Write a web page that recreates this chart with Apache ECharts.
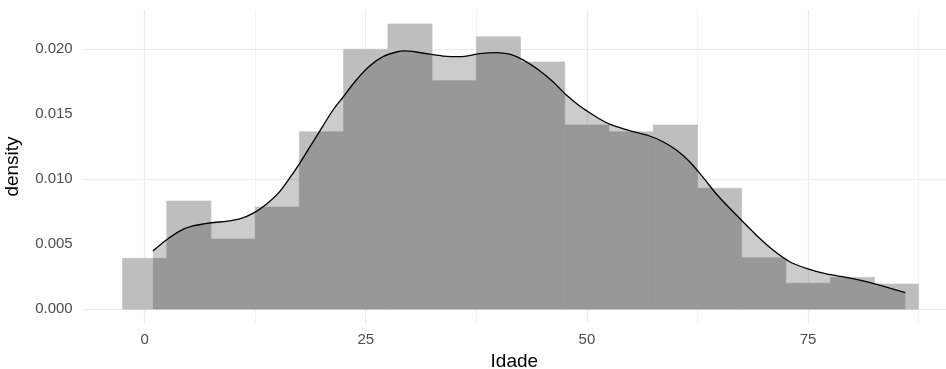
<!DOCTYPE html>
<html>
<head>
<meta charset="utf-8">
<script src="https://cdn.jsdelivr.net/npm/echarts@6/dist/echarts.min.js"></script>
<style>
html,body{margin:0;padding:0;background:#fff;}
#chart{width:946px;height:369px;}
</style>
</head>
<body>
<div id="chart"></div>
<script>
// Histogram bins (centers) and densities
const binCenters = [0, 5, 10, 15, 20, 25, 30, 35, 40, 45, 50, 55, 60, 65, 70, 75, 80, 85];
const binDensity = [0.00392, 0.00833, 0.00541, 0.00787, 0.01366, 0.0200, 0.02195, 0.01758, 0.02097, 0.01902, 0.01418, 0.01366, 0.01418, 0.00931, 0.00397, 0.0020, 0.00246, 0.00195];
const BIN_WIDTH = 5;

// Kernel density curve
const densX = [0.94, 2.45, 3.96, 5.46, 7.53, 9.24, 10.74, 12.25, 13.76, 15.27, 16.77, 17.53, 19.41, 21.3, 22.42, 23.93, 25.44, 26.95, 28.45, 29.4, 30.72, 32.2, 33.73, 35.62, 37.88, 39.77, 41.27, 42.78, 44.66, 46.17, 47.68, 49.19, 50.32, 51.45, 52.58, 54.84, 57.1, 58.6, 60.12, 61.62, 63.13, 64.64, 66.15, 67.65, 69.53, 71.04, 72.93, 74.81, 77.07, 79.33, 82.34, 86.0];
const densY = [0.00448, 0.00533, 0.00602, 0.00641, 0.00666, 0.00677, 0.00695, 0.00738, 0.00808, 0.00905, 0.01046, 0.01123, 0.01328, 0.01533, 0.01631, 0.01764, 0.01872, 0.01943, 0.01979, 0.01987, 0.01979, 0.01962, 0.01948, 0.01943, 0.01966, 0.01974, 0.01962, 0.01918, 0.01835, 0.01751, 0.01648, 0.01564, 0.01512, 0.01464, 0.01425, 0.01374, 0.01333, 0.01289, 0.01225, 0.01135, 0.01015, 0.00887, 0.00777, 0.00674, 0.00546, 0.00456, 0.00366, 0.00315, 0.00272, 0.00246, 0.0020, 0.00128];

// Tick / grid values
const xMajor = [0, 25, 50, 75];
const xMinor = [12.5, 37.5, 62.5, 87.5];
const yMajor = [0, 0.005, 0.010, 0.015, 0.020];
const yMinor = [0.0025, 0.0075, 0.0125, 0.0175, 0.0225];

const FONT = '"Liberation Sans", Arial, sans-serif';
const chart = echarts.init(document.getElementById('chart'), null, {renderer: 'canvas'});

const gridLines = [];
xMinor.forEach(v => gridLines.push({xAxis: v, lineStyle: {color: '#f2f2f2', width: 1}}));
yMinor.forEach(v => gridLines.push({yAxis: v, lineStyle: {color: '#f2f2f2', width: 1}}));
xMajor.forEach(v => gridLines.push({xAxis: v, lineStyle: {color: '#ebebeb', width: 1.2}}));
yMajor.forEach(v => gridLines.push({yAxis: v, lineStyle: {color: '#ebebeb', width: 1.2}}));

chart.setOption({
  animation: false,
  backgroundColor: '#ffffff',
  grid: {left: 82.7, right: 0, top: 10, height: 313, containLabel: false, outerBoundsMode: 'none'},
  xAxis: {
    type: 'value', min: -7, max: 90.6,
    name: 'Idade', nameLocation: 'middle', nameGap: 29,
    nameTextStyle: {fontFamily: FONT, fontSize: 19, color: '#000000'},
    axisLine: {show: false}, axisTick: {show: false}, splitLine: {show: false},
    axisLabel: {customValues: xMajor, fontFamily: FONT, fontSize: 15, color: '#4d4d4d', margin: 9,
      formatter: v => String(v)}
  },
  yAxis: {
    type: 'value', min: -0.00105, max: 0.02302,
    name: 'density', nameLocation: 'middle', nameGap: 60, nameRotate: 90,
    nameTextStyle: {fontFamily: FONT, fontSize: 19, color: '#000000'},
    axisLine: {show: false}, axisTick: {show: false}, splitLine: {show: false},
    axisLabel: {customValues: yMajor, fontFamily: FONT, fontSize: 15, color: '#4d4d4d', margin: 10,
      formatter: v => v.toFixed(3)}
  },
  series: [
    {
      type: 'line', data: [], silent: true, z: 0,
      markLine: {silent: true, z: 0, symbol: 'none', label: {show: false}, animation: false,
        lineStyle: {type: 'solid'}, emphasis: {disabled: true}, data: gridLines}
    },
    {
      type: 'custom', z: 2,
      data: binCenters.map((c, i) => [c, binDensity[i]]),
      renderItem: function (params, api) {
        const c = api.value(0), v = api.value(1);
        const p0 = api.coord([c - BIN_WIDTH / 2, v]);
        const p1 = api.coord([c + BIN_WIDTH / 2, 0]);
        return {type: 'rect', shape: {x: p0[0], y: p0[1], width: p1[0] - p0[0], height: p1[1] - p0[1]},
          style: {fill: '#bebebe', stroke: '#bebebe', lineWidth: 0.6}};
      }
    },
    {
      type: 'line', z: 3,
      data: densX.map((x, i) => [x, densY[i]]),
      smooth: 0.3, symbol: 'none',
      lineStyle: {color: '#000000', width: 1.3},
      areaStyle: {color: '#000000', opacity: 0.2, origin: 0}
    }
  ]
});
</script>
</body>
</html>
